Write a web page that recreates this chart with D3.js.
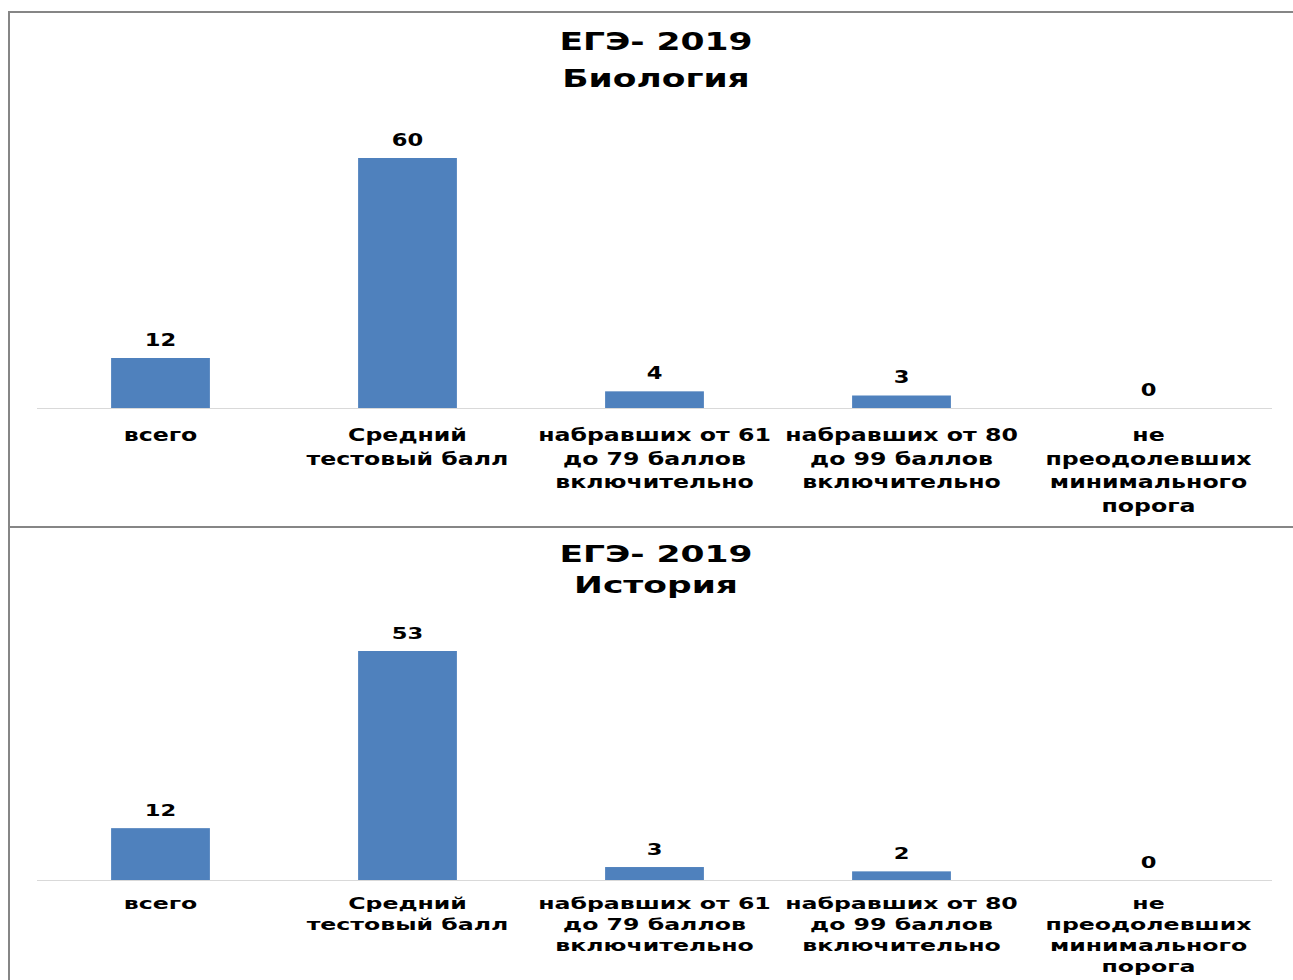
<!DOCTYPE html>
<html><head><meta charset="utf-8">
<script src="https://cdn.jsdelivr.net/npm/d3@7"></script>
<style>body{margin:0;background:#fff}svg{display:block}text{font-family:"DejaVu Sans",Verdana,sans-serif;font-weight:bold;fill:#000}</style>
</head><body>
<script>
const categories = [
  ["всего"],
  ["Средний", "тестовый балл"],
  ["набравших от 61", "до 79 баллов", "включительно"],
  ["набравших от 80", "до 99 баллов", "включительно"],
  ["не", "преодолевших", "минимального", "порога"]
];
const titleYear = "ЕГЭ- 2019";
const subjects = ["Биология", "История"];
const biologyValues = [12, 60, 4, 3, 0];
const historyValues = [12, 53, 3, 2, 0];

const W = 1293, H = 980;
const svg = d3.select("body").append("svg").attr("width", W).attr("height", H);

const panels = [
  {subject: subjects[0], values: biologyValues, top: 12, bottom: 527, base: 408, barTop: 158, t1: 50, t2: 87, catY: 441, lh: 23.7, lblOff: 12.5, sy: 1},
  {subject: subjects[1], values: historyValues, top: 527, bottom: 990, base: 880, barTop: 651, t1: 561.5, t2: 593, catY: 909, lh: 21, lblOff: 12.5, sy: 0.9}
];
const SX = 1.39;

function stretched(g, x, y, txt, size, sx, sy) {
  g.append("text")
    .attr("transform", `translate(${x},${y}) scale(${sx},${sy})`)
    .attr("text-anchor", "middle")
    .style("font-size", size + "px")
    .text(txt);
}

panels.forEach(p => {
  const g = svg.append("g");
  g.append("path")
    .attr("d", `M${W + 10},${p.top} H9 V${p.bottom}`)
    .attr("fill", "none").attr("stroke", "#868686").attr("stroke-width", 2);

  const x = d3.scaleBand().domain(d3.range(categories.length)).range([37, 1272]).paddingInner(0.6).paddingOuter(0.3);
  const maxV = d3.max(p.values);
  const y = d3.scaleLinear().domain([0, maxV]).range([p.base, p.barTop]);

  stretched(g, 656, p.t1, titleYear, 25, 1.38, p.sy);
  stretched(g, 656, p.t2, p.subject, 25, 1.38, p.sy);

  g.selectAll("rect").data(p.values).join("rect")
    .attr("x", (d, i) => x(i)).attr("width", x.bandwidth())
    .attr("y", d => y(d)).attr("height", d => p.base - y(d))
    .attr("fill", "#4F81BD");

  g.append("line").attr("x1", 37).attr("x2", 1272).attr("y1", p.base + 0.5).attr("y2", p.base + 0.5)
    .attr("stroke", "#D9D9D9").attr("stroke-width", 1);

  p.values.forEach((v, i) => {
    stretched(g, x(i) + x.bandwidth() / 2, y(v) - p.lblOff, String(v), 17, 1.33, p.sy);
    categories[i].forEach((line, k) => {
      stretched(g, x(i) + x.bandwidth() / 2, p.catY + k * p.lh, line, 17, SX, p.sy);
    });
  });
});
</script>
</body></html>
